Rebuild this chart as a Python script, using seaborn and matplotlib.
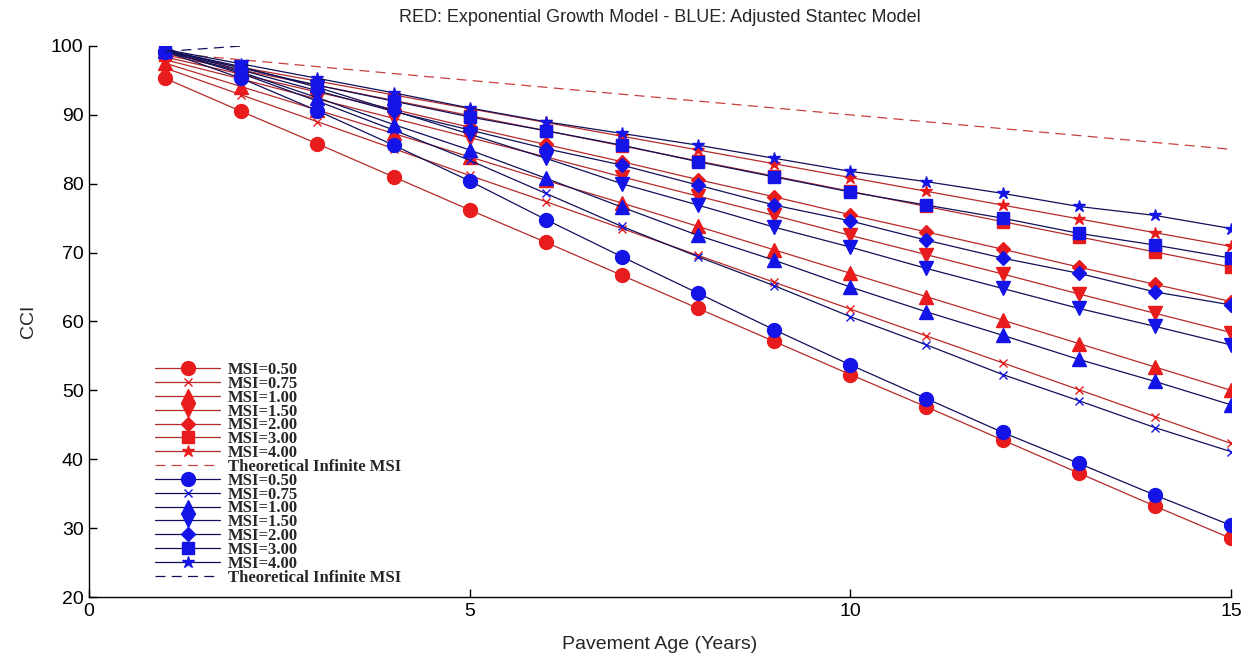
import matplotlib
matplotlib.use("Agg")
import matplotlib.pyplot as plt
import seaborn as sns
import pandas as pd

# ---------------- data ----------------
years = list(range(1, 16))
msi_labels = ["MSI=0.50", "MSI=0.75", "MSI=1.00", "MSI=1.50", "MSI=2.00", "MSI=3.00", "MSI=4.00"]
theory_label = "Theoretical Infinite MSI"

# RED: Exponential Growth Model
red_050 = [95.3, 90.5, 85.8, 81.0, 76.2, 71.5, 66.7, 61.9, 57.1, 52.3, 47.6, 42.8, 38.0, 33.2, 28.5]
red_075 = [96.8, 92.9, 89.0, 85.1, 81.2, 77.4, 73.5, 69.6, 65.7, 61.8, 57.9, 54.0, 50.1, 46.2, 42.3]
red_100 = [97.5, 94.1, 90.7, 87.3, 83.9, 80.5, 77.2, 73.8, 70.4, 67.0, 63.6, 60.2, 56.8, 53.4, 50.0]
red_150 = [98.0, 95.2, 92.3, 89.5, 86.7, 83.9, 81.0, 78.2, 75.4, 72.5, 69.7, 66.9, 64.0, 61.2, 58.4]
red_200 = [98.4, 95.9, 93.3, 90.8, 88.2, 85.7, 83.2, 80.6, 78.1, 75.5, 73.0, 70.5, 67.9, 65.4, 62.9]
red_300 = [98.7, 96.5, 94.3, 92.1, 89.9, 87.7, 85.5, 83.3, 81.1, 78.9, 76.7, 74.5, 72.3, 70.1, 67.9]
red_400 = [98.9, 96.9, 94.9, 92.9, 90.9, 88.9, 86.9, 84.9, 82.9, 80.9, 78.9, 76.9, 74.9, 72.9, 70.9]
red_theory = [99.0, 98.0, 97.0, 96.0, 95.0, 94.0, 93.0, 92.0, 91.0, 90.0, 89.0, 88.0, 87.0, 86.0, 85.0]

# BLUE: Adjusted Stantec Model
blue_050 = [99.2, 95.3, 90.6, 85.6, 80.4, 74.8, 69.4, 64.1, 58.8, 53.7, 48.8, 43.9, 39.4, 34.8, 30.4]
blue_075 = [99.3, 96.0, 92.0, 87.8, 83.4, 78.6, 73.8, 69.4, 65.2, 60.7, 56.6, 52.3, 48.5, 44.6, 41.1]
blue_100 = [99.3, 96.2, 92.5, 88.6, 84.9, 80.8, 76.6, 72.5, 68.9, 65.0, 61.4, 58.0, 54.5, 51.3, 47.9]
blue_150 = [99.4, 97.0, 94.0, 90.6, 87.2, 83.7, 80.0, 76.9, 73.7, 70.8, 67.7, 64.8, 61.9, 59.3, 56.6]
blue_200 = [99.4, 96.5, 93.5, 90.5, 87.8, 85.1, 82.7, 79.8, 76.9, 74.6, 71.8, 69.2, 67.0, 64.3, 62.4]
blue_300 = [99.4, 96.8, 94.3, 92.0, 89.7, 87.7, 85.6, 83.2, 81.0, 78.8, 76.9, 75.0, 72.8, 71.1, 69.2]
blue_400 = [99.5, 97.4, 95.3, 93.2, 91.0, 89.0, 87.3, 85.6, 83.7, 81.8, 80.3, 78.6, 76.7, 75.4, 73.5]
blue_theory_years = [1, 2]
blue_theory = [99.2, 100.0]

red_series = [red_050, red_075, red_100, red_150, red_200, red_300, red_400]
blue_series = [blue_050, blue_075, blue_100, blue_150, blue_200, blue_300, blue_400]

# ---------------- styling ----------------
markers = ["o", "x", "^", "v", "D", "s", "*"]
msizes = [10, 6, 10, 10, 7, 9, 9]

sns.set_theme(style="white")
plt.rcParams["font.family"] = ["Liberation Sans Narrow", "Liberation Sans", "DejaVu Sans"]

fig = plt.figure(figsize=(12.49, 6.58), dpi=100)
ax = fig.add_axes([0.0713, 0.0927, 0.9143, 0.8374])

red_line = "#b52a2a"
red_mk = "#e81c1c"
blue_line = "#10105a"
blue_mk = "#1414e6"

handles = []
labels = []

for vals, m, ms, lab in zip(red_series, markers, msizes, msi_labels):
    df = pd.DataFrame({"Year": years, "CCI": vals})
    sns.lineplot(data=df, x="Year", y="CCI", ax=ax, color=red_line, linewidth=0.9,
                 marker=m, markersize=ms, markerfacecolor=red_mk, markeredgecolor=red_mk,
                 markeredgewidth=1.0, legend=False)
    handles.append(ax.lines[-1]); labels.append(lab)

df = pd.DataFrame({"Year": years, "CCI": red_theory})
sns.lineplot(data=df, x="Year", y="CCI", ax=ax, color="#c84040", linewidth=0.9,
             legend=False)
ax.lines[-1].set_linestyle((0, (8, 5)))
handles.append(ax.lines[-1]); labels.append(theory_label)

for vals, m, ms, lab in zip(blue_series, markers, msizes, msi_labels):
    df = pd.DataFrame({"Year": years, "CCI": vals})
    sns.lineplot(data=df, x="Year", y="CCI", ax=ax, color=blue_line, linewidth=0.9,
                 marker=m, markersize=ms, markerfacecolor=blue_mk, markeredgecolor=blue_mk,
                 markeredgewidth=1.0, legend=False)
    handles.append(ax.lines[-1]); labels.append(lab)

df = pd.DataFrame({"Year": blue_theory_years, "CCI": blue_theory})
sns.lineplot(data=df, x="Year", y="CCI", ax=ax, color=blue_line, linewidth=0.9,
             legend=False)
ax.lines[-1].set_linestyle((0, (8, 5)))
handles.append(ax.lines[-1]); labels.append(theory_label)

ax.set_xlim(0, 15)
ax.set_ylim(20, 100)
ax.set_xticks([0, 5, 10, 15])
ax.set_yticks(list(range(20, 101, 10)))
ax.tick_params(direction="in", length=6, width=1, labelsize=14, colors="black",
               bottom=True, left=True, top=False, right=False, pad=4)
for s in ["top", "right"]:
    ax.spines[s].set_visible(False)
for s in ["left", "bottom"]:
    ax.spines[s].set_color("black")
    ax.spines[s].set_linewidth(1.0)

ax.set_xlabel("Pavement Age (Years)", fontsize=14, labelpad=12)
ax.set_ylabel("CCI", fontsize=14, labelpad=10)
ax.set_title("RED: Exponential Growth Model - BLUE: Adjusted Stantec Model", fontsize=13, pad=17)

leg = ax.legend(handles, labels, loc="upper left", bbox_to_anchor=(155 / 1249, 1 - 362 / 658),
                bbox_transform=fig.transFigure, frameon=False,
                prop={"family": ["Liberation Serif", "DejaVu Serif"], "weight": "bold", "size": 12},
                labelspacing=-0.13, handlelength=3.9, handletextpad=0.45, borderpad=0.0,
                borderaxespad=0.0)

fig.savefig("out.png", dpi=100)
